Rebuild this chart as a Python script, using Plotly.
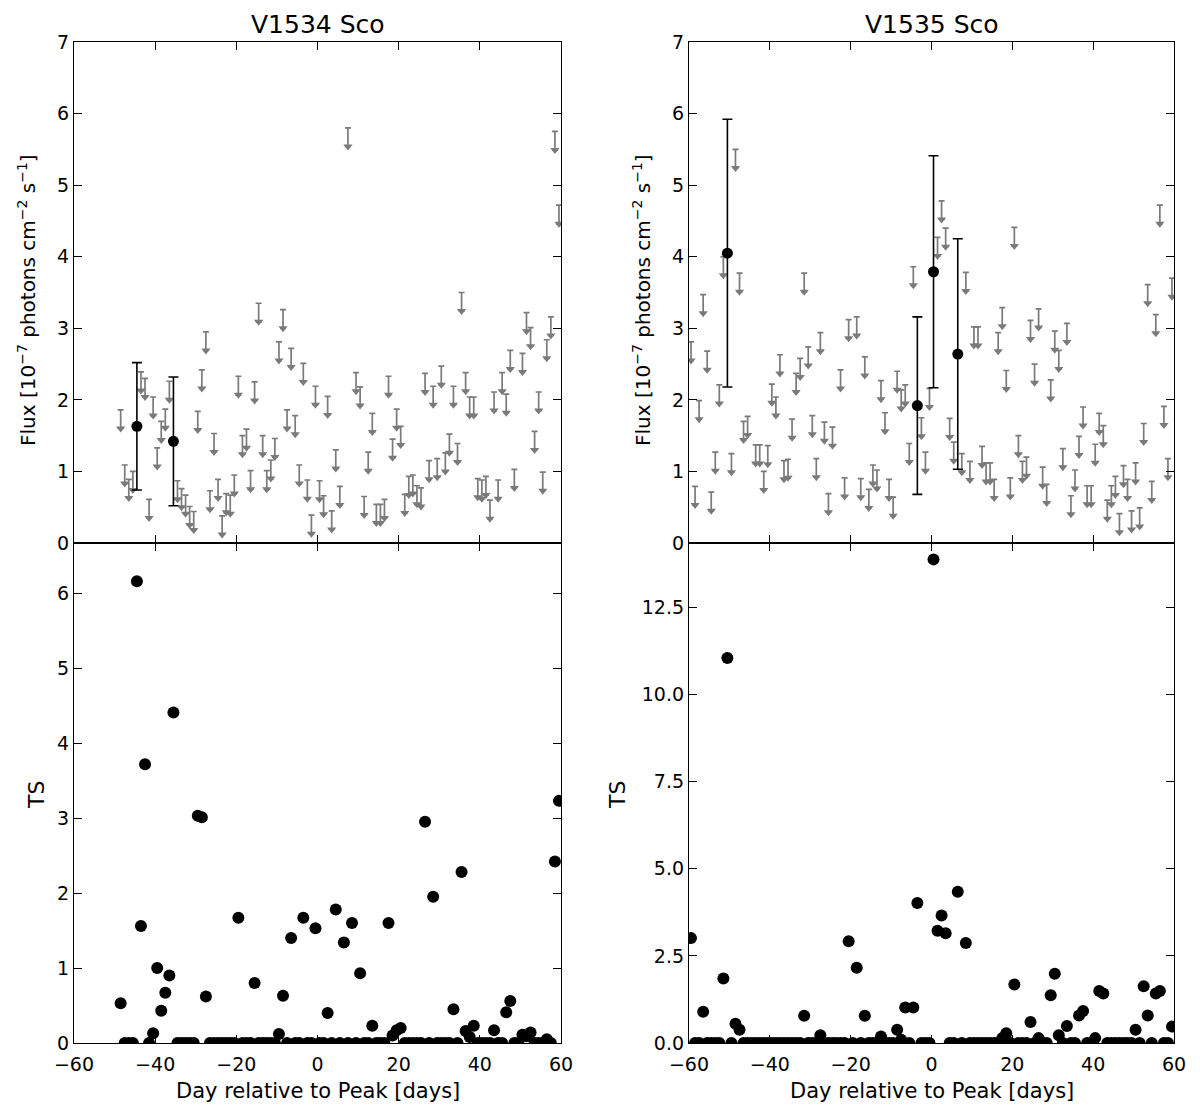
import plotly.graph_objects as go

# ---------------- V1534 Sco ----------------
ul_days_1534 = [-48.5, -47.5, -46.5, -45.5, -43.5, -42.5, -41.5, -40.5, -39.5, -38.5, -37.5, -36.5,
                -34.5, -33.5, -32.5, -31.5, -30.5, -29.5, -28.5, -27.5, -26.5, -25.5, -24.5, -23.5,
                -22.5, -21.5, -20.5, -19.5, -18.5, -17.5, -16.5, -15.5, -14.5, -13.5, -12.5, -11.5,
                -10.5, -9.5, -8.5, -7.5, -6.5, -5.5, -4.5, -3.5, -2.5, -1.5, -0.5, 0.5, 1.5, 2.5,
                3.5, 4.5, 5.5, 7.5, 9.5, 10.5, 11.5, 12.5, 13.5, 14.5, 15.5, 16.5, 17.5, 18.5, 19.5,
                20.5, 21.5, 22.5, 23.5, 24.5, 25.5, 26.5, 27.5, 28.5, 29.5, 30.5, 31.5, 32.5, 33.5,
                34.5, 35.5, 36.5, 37.5, 38.5, 39.5, 40.5, 41.5, 42.5, 43.5, 44.5, 45.5, 46.5, 47.5,
                48.5, 50.5, 51.5, 52.5, 53.5, 54.5, 55.5, 56.5, 57.5, 58.5, 59.5]
ul_flux_1534 = [1.86, 1.09, 0.89, 1.00, 2.39, 2.30, 0.61, 2.04, 1.33, 1.70, 1.87, 2.26,
                0.87, 0.76, 0.67, 0.51, 0.44, 1.84, 2.42, 2.95, 0.73, 1.53, 0.89, 0.38,
                0.69, 0.67, 0.95, 2.33, 1.50, 1.59, 1.01, 2.25, 3.35, 1.50, 1.01, 1.16,
                1.46, 2.81, 3.26, 1.86, 2.72, 1.78, 1.09, 2.51, 0.88, 0.39, 2.19, 0.87, 0.66, 2.05,
                0.45, 1.30, 0.79, 5.80, 2.38, 2.18, 0.65, 1.27, 1.81, 0.54, 0.54, 0.61, 2.33, 1.45, 1.87,
                1.63, 0.68, 0.93, 0.95, 0.80, 0.77, 2.37, 1.15, 2.19, 1.18, 2.47, 1.26, 1.52, 2.19,
                1.39, 3.50, 2.38, 2.04, 2.04, 0.90, 0.88, 0.93, 0.60, 2.11, 0.88, 2.38, 2.08, 2.69,
                1.03, 2.65, 3.22, 3.01, 1.56, 2.11, 0.99, 2.84, 3.16, 5.75, 4.72]
det_days_1534 = [-44.5, -35.5]
det_flux_1534 = [1.63, 1.42]
det_err_1534 = [0.89, 0.90]

ts_days_1534 = [-48.5, -47.5, -46.5, -45.5, -44.5, -43.5, -42.5, -41.5, -40.5, -39.5, -38.5, -37.5,
                -36.5, -35.5, -34.5, -33.5, -32.5, -31.5, -30.5, -29.5, -28.5, -27.5, -26.5, -25.5,
                -24.5, -23.5, -22.5, -21.5, -20.5, -19.5, -18.5, -17.5, -16.5, -15.5, -14.5, -13.5,
                -12.5, -11.5, -10.5, -9.5, -8.5, -7.5, -6.5, -5.5, -4.5, -3.5, -2.5, -1.5, -0.5,
                0.5, 1.5, 2.5, 3.5, 4.5, 5.5, 6.5, 7.5, 8.5, 9.5, 10.5, 11.5, 12.5, 13.5, 14.5,
                15.5, 16.5, 17.5, 18.5, 19.5, 20.5, 21.5, 22.5, 23.5, 24.5, 25.5, 26.5, 27.5, 28.5,
                29.5, 30.5, 31.5, 32.5, 33.5, 34.5, 35.5, 36.5, 37.5, 38.5, 39.5, 40.5, 41.5, 42.5,
                43.5, 44.5, 45.5, 46.5, 47.5, 48.5, 49.5, 50.5, 51.5, 52.5, 53.5, 54.5, 55.5, 56.5,
                57.5, 58.5, 59.5]
ts_1534 = [0.53, 0, 0, 0, 6.16, 1.56, 3.72, 0, 0.13, 1.00, 0.43, 0.67,
           0.90, 4.41, 0, 0, 0, 0, 0, 3.03, 3.01, 0.62, 0, 0,
           0, 0, 0, 0, 0, 1.67, 0, 0, 0, 0.80, 0, 0,
           0, 0, 0, 0.12, 0.63, 0, 1.40, 0, 0, 1.67, 0, 0, 1.53,
           0, 0, 0.40, 0, 1.78, 0, 1.34, 0, 1.60, 0, 0.93, 0, 0, 0.23, 0,
           0, 0, 1.60, 0.10, 0.17, 0.20, 0, 0, 0, 0, 0, 2.95, 0, 1.95,
           0, 0, 0, 0, 0.45, 0, 2.28, 0.16, 0.08, 0.23, 0, 0, 0, 0,
           0.17, 0, 0, 0.41, 0.56, 0, 0, 0.11, 0.09, 0.14, 0, 0, 0, 0.05,
           0, 2.42, 3.23]

# ---------------- V1535 Sco ----------------
ul_days_1535 = [-59.5, -58.5, -57.5, -56.5, -55.5, -54.5, -53.5, -52.5, -51.5, -49.5, -48.5, -47.5,
                -46.5, -45.5, -43.5, -42.5, -41.5, -40.5, -39.5, -38.5, -37.5, -36.5, -35.5, -34.5,
                -33.5, -32.5, -31.5, -30.5, -29.5, -28.5, -27.5, -26.5, -25.5, -24.5, -22.5, -21.5,
                -20.5, -18.5, -17.5, -16.5, -15.5, -14.5, -13.5, -12.5, -11.5, -10.5, -9.5, -8.5,
                -7.5, -6.5, -5.5, -4.5, -2.5, -1.5, -0.5, 1.5, 2.5, 3.5, 4.5, 5.5, 7.5, 8.5, 9.5,
                10.5, 11.5, 12.5, 13.5, 14.5, 15.5, 16.5, 17.5, 18.5, 19.5, 20.5, 21.5, 22.5, 23.5,
                24.5, 25.5, 26.5, 27.5, 28.5, 29.5, 30.5, 31.5, 32.5, 33.5, 34.5, 35.5, 36.5, 37.5,
                38.5, 39.5, 40.5, 41.5, 42.5, 43.5, 44.5, 45.5, 46.5, 47.5, 48.5, 49.5, 50.5, 51.5,
                52.5, 53.5, 54.5, 55.5, 56.5, 57.5, 58.5, 59.5]
ul_flux_1535 = [2.81, 0.79, 1.99, 3.47, 2.68, 0.71, 1.27, 2.21, 4.00, 1.25, 5.50, 3.77,
                1.70, 1.77, 1.37, 1.37, 1.00, 1.36, 2.22, 2.04, 2.63, 1.15, 1.17, 1.73,
                2.37, 2.58, 3.77, 2.74, 1.78, 1.18, 2.94, 1.69, 0.69, 1.62, 2.42, 0.91,
                3.12, 3.16, 0.90, 2.60, 0.75, 1.09, 1.02, 2.27, 1.82, 0.89, 0.64, 2.40,
                2.14, 2.21, 1.39, 3.86, 1.75, 1.27, 2.16, 4.27, 4.78, 4.40, 1.74, 1.41, 1.25, 3.78, 1.14,
                3.02, 3.02, 1.35, 1.12, 1.12, 0.89, 2.94, 3.29, 2.41, 0.91, 4.41, 1.50, 1.14, 1.20,
                3.11, 2.50, 3.27, 1.06, 0.82, 2.28, 2.96, 2.69, 1.32, 3.07, 0.66, 1.02, 1.49, 1.90,
                0.80, 0.80, 1.38, 1.81, 1.64, 0.60, 0.80, 0.93, 0.41, 1.08, 0.89, 0.45, 1.12, 0.49,
                1.67, 3.61, 0.86, 3.19, 4.72, 1.91, 1.18, 3.70]
det_days_1535 = [-50.5, -3.5, 0.5, 6.5]
det_flux_1535 = [4.05, 1.92, 3.79, 2.64]
det_err_1535 = [1.87, 1.24, 1.62, 1.61]

ts_days_1535 = [-59.5, -58.5, -57.5, -56.5, -55.5, -54.5, -53.5, -52.5, -51.5, -50.5, -49.5, -48.5,
                -47.5, -46.5, -45.5, -44.5, -43.5, -42.5, -41.5, -40.5, -39.5, -38.5, -37.5, -36.5,
                -35.5, -34.5, -33.5, -32.5, -31.5, -30.5, -29.5, -28.5, -27.5, -26.5, -25.5, -24.5,
                -23.5, -22.5, -21.5, -20.5, -19.5, -18.5, -17.5, -16.5, -15.5, -14.5, -13.5, -12.5,
                -11.5, -10.5, -9.5, -8.5, -7.5, -6.5, -5.5, -4.5, -3.5, -2.5, -1.5, -0.5,
                0.5, 1.5, 2.5, 3.5, 4.5, 5.5, 6.5, 7.5, 8.5, 9.5, 10.5, 11.5, 12.5, 13.5, 14.5,
                15.5, 16.5, 17.5, 18.5, 19.5, 20.5, 21.5, 22.5, 23.5, 24.5, 25.5, 26.5, 27.5, 28.5,
                29.5, 30.5, 31.5, 32.5, 33.5, 34.5, 35.5, 36.5, 37.5, 38.5, 39.5, 40.5, 41.5, 42.5,
                43.5, 44.5, 45.5, 46.5, 47.5, 48.5, 49.5, 50.5, 51.5, 52.5, 53.5, 54.5, 55.5, 56.5,
                57.5, 58.5, 59.5]
ts_1535 = [3.01, 0, 0, 0.90, 0, 0, 0, 0, 1.85, 11.05, 0, 0.55,
           0.38, 0, 0, 0, 0, 0, 0, 0, 0, 0, 0, 0,
           0, 0, 0, 0, 0.78, 0, 0, 0, 0.22, 0, 0, 0,
           0, 0, 0, 2.92, 0, 2.16, 0, 0.78, 0, 0, 0, 0.19,
           0, 0, 0, 0.38, 0.09, 1.02, 0, 1.02, 4.02, 0, 0, 0,
           13.88, 3.22, 3.66, 3.15, 0, 0, 4.34, 0, 2.87, 0, 0, 0, 0, 0, 0,
           0, 0, 0.14, 0.28, 0, 1.68, 0, 0, 0, 0.60, 0, 0.14, 0, 0,
           1.37, 1.99, 0.22, 0, 0.49, 0, 0, 0.79, 0.92, 0, 0, 0.14, 1.49, 1.42,
           0, 0, 0, 0, 0, 0, 0, 0.38, 0, 1.63, 0.79, 0, 1.42, 1.49,
           0, 0, 0.47]

x_ticks = [-60, -40, -20, 0, 20, 40, 60]
titles = ["V1534 Sco", "V1535 Sco"]
flux_label = "Flux [10<sup>\u22127</sup> photons cm<sup>\u22122</sup> s<sup>\u22121</sup>]"
ts_label = "TS"
x_label = "Day relative to Peak [days]"

GRAY = "#7a7a7a"
ARROW = 0.26  # arrow length in flux units (style)
FONT = "DejaVu Sans"

fig = go.Figure()


def add_panel(ul_d, ul_f, dd, df, de, tsd, tsv, xa_top, ya_top, xa_bot, ya_bot):
    fig.add_trace(go.Scatter(
        x=ul_d, y=[v - ARROW for v in ul_f], mode="markers",
        marker=dict(symbol="triangle-down", size=8, color=GRAY, line=dict(width=0)),
        error_y=dict(type="data", symmetric=False, array=[ARROW] * len(ul_f),
                     arrayminus=[0] * len(ul_f), color=GRAY, thickness=1.7, width=3),
        xaxis=xa_top, yaxis=ya_top, showlegend=False, hoverinfo="skip"))
    fig.add_trace(go.Scatter(
        x=dd, y=df, mode="markers",
        marker=dict(symbol="circle", size=11, color="black", line=dict(width=0)),
        error_y=dict(type="data", array=de, color="black", thickness=1.6, width=5),
        xaxis=xa_top, yaxis=ya_top, showlegend=False))
    fig.add_trace(go.Scatter(
        x=tsd, y=tsv, mode="markers",
        marker=dict(symbol="circle", size=12, color="black", line=dict(width=0)),
        xaxis=xa_bot, yaxis=ya_bot, showlegend=False))


add_panel(ul_days_1534, ul_flux_1534, det_days_1534, det_flux_1534, det_err_1534,
          ts_days_1534, ts_1534, "x", "y", "x2", "y2")
add_panel(ul_days_1535, ul_flux_1535, det_days_1535, det_flux_1535, det_err_1535,
          ts_days_1535, ts_1535, "x3", "y3", "x4", "y4")

# the page body adds an 8 px margin, so the figure is 16 px smaller and positions shift by 8
OFF = 8
W, H = 1200 - 2 * OFF, 1119 - 2 * OFF


def px(v):
    return (v - OFF) / W


def py(v):
    return 1 - (v - OFF) / H


XL = [px(74), px(561)]
XR = [px(689), px(1174)]
YT = [py(543), py(42)]
YB = [py(1043), py(543)]

ax_common = dict(showline=True, linecolor="black", linewidth=1.3, mirror="ticks",
                 ticks="inside", ticklen=8, tickwidth=1.1, tickcolor="black",
                 showgrid=False, zeroline=False, automargin=False,
                 tickfont=dict(family=FONT, size=19, color="black"))

xcommon = dict(ax_common, range=[-60, 60], tickvals=x_ticks, ticklabelstandoff=4)

fig.update_layout(
    width=W, height=H, autosize=False,
    margin=dict(l=0, r=0, t=0, b=0, pad=0, autoexpand=False),
    paper_bgcolor="white", plot_bgcolor="white",
    font=dict(family=FONT, color="black"),
    xaxis=dict(xcommon, domain=XL, anchor="y", showticklabels=False),
    yaxis=dict(ax_common, domain=YT, anchor="x", range=[0, 7], dtick=1),
    xaxis2=dict(xcommon, domain=XL, anchor="y2", matches="x"),
    yaxis2=dict(ax_common, domain=YB, anchor="x2", range=[0, 6.67], dtick=1),
    xaxis3=dict(xcommon, domain=XR, anchor="y3", showticklabels=False),
    yaxis3=dict(ax_common, domain=YT, anchor="x3", range=[0, 7], dtick=1),
    xaxis4=dict(xcommon, domain=XR, anchor="y4", matches="x3"),
    yaxis4=dict(ax_common, domain=YB, anchor="x4", range=[0, 14.35], dtick=2.5,
                tickformat=".1f"),
)

ann = []
for cx, t in [((XL[0] + XL[1]) / 2, titles[0]), ((XR[0] + XR[1]) / 2, titles[1])]:
    ann.append(dict(text=t, x=cx, y=py(25), xref="paper", yref="paper",
                    showarrow=False, font=dict(family=FONT, size=25, color="black"),
                    xanchor="center", yanchor="middle"))
    ann.append(dict(text=x_label, x=cx, y=py(1091), xref="paper", yref="paper",
                    showarrow=False, font=dict(family=FONT, size=21, color="black"),
                    xanchor="center", yanchor="middle"))
for px_flux, px_ts in [(27, 36), (642, 617)]:
    ann.append(dict(text=flux_label, x=px(px_flux), y=py(300), xref="paper", yref="paper",
                    showarrow=False, textangle=-90,
                    font=dict(family=FONT, size=20, color="black"),
                    xanchor="center", yanchor="middle"))
    ann.append(dict(text=ts_label, x=px(px_ts), y=py(795), xref="paper", yref="paper",
                    showarrow=False, textangle=-90,
                    font=dict(family=FONT, size=22, color="black"),
                    xanchor="center", yanchor="middle"))
fig.update_layout(annotations=ann)

fig.write_html("out.html")
